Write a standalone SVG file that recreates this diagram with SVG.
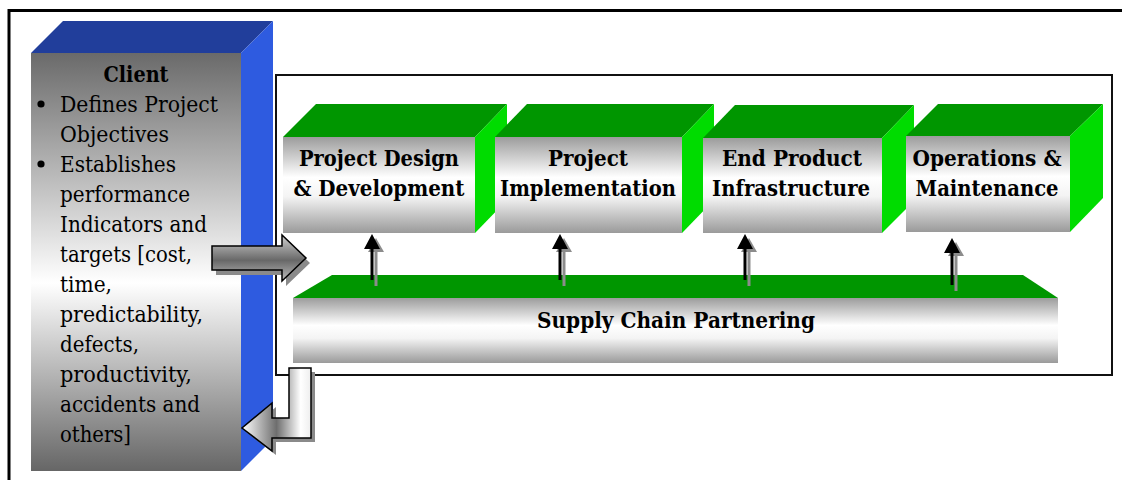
<svg xmlns="http://www.w3.org/2000/svg" width="1122" height="480" viewBox="0 0 1122 480">
  <style>
    text { fill: #000; }
    .lbl { font-size: 22px; font-weight: bold; text-anchor: middle; }
    .body { font-size: 22px; }
    .topg { fill: #009600; }
    .sideg { fill: #00DC00; }
    .frontg { fill: url(#gBox); }
    .shaft { stroke: #000; stroke-width: 3; }
    .shaftS { stroke: #8c8c8c; stroke-width: 3; }
  </style>
  <defs>
    <linearGradient id="gBox" x1="0" y1="0" x2="0" y2="1">
      <stop offset="0" stop-color="#9c9c9c"/>
      <stop offset="0.42" stop-color="#ffffff"/>
      <stop offset="0.62" stop-color="#f4f4f4"/>
      <stop offset="1" stop-color="#9a9a9a"/>
    </linearGradient>
    <linearGradient id="gClient" x1="0" y1="0" x2="0" y2="1">
      <stop offset="0" stop-color="#6a6a6a"/>
      <stop offset="0.55" stop-color="#ffffff"/>
      <stop offset="1" stop-color="#666666"/>
    </linearGradient>
    <linearGradient id="gRight" x1="0" y1="0" x2="0" y2="1">
      <stop offset="0" stop-color="#d0d0d0"/>
      <stop offset="0.55" stop-color="#686868"/>
      <stop offset="1" stop-color="#bdbdbd"/>
    </linearGradient>
    <linearGradient id="gBack" gradientUnits="userSpaceOnUse" x1="242" y1="0" x2="311" y2="0">
      <stop offset="0" stop-color="#ffffff"/>
      <stop offset="0.5" stop-color="#6e6e6e"/>
      <stop offset="0.85" stop-color="#ffffff"/>
      <stop offset="1" stop-color="#eeeeee"/>
    </linearGradient>
  </defs>

  <rect width="1122" height="480" fill="#ffffff"/>

  <!-- outer frame -->
  <rect x="9" y="10.5" width="1130" height="490" fill="none" stroke="#000" stroke-width="3"/>

  <g font-family="DejaVu Serif">
  <!-- client block -->
  <g id="client">
    <polygon points="31,53 63,21 273,21 241,53" fill="#213E9B"/>
    <polygon points="241,53 273,21 273,439 241,471" fill="#2E5BE0"/>
    <rect x="31" y="53" width="210" height="418" fill="url(#gClient)"/>
    <text class="lbl" x="136" y="82" textLength="65" lengthAdjust="spacingAndGlyphs">Client</text>
    <circle cx="41" cy="104" r="3.6" fill="#000"/>
    <circle cx="41" cy="164" r="3.6" fill="#000"/>
    <g class="body">
      <text x="60" y="112" textLength="158" lengthAdjust="spacingAndGlyphs">Defines Project</text>
      <text x="60" y="142" textLength="109" lengthAdjust="spacingAndGlyphs">Objectives</text>
      <text x="60" y="172" textLength="116" lengthAdjust="spacingAndGlyphs">Establishes</text>
      <text x="60" y="202" textLength="130" lengthAdjust="spacingAndGlyphs">performance</text>
      <text x="60" y="232" textLength="147" lengthAdjust="spacingAndGlyphs">Indicators and</text>
      <text x="60" y="262" textLength="132" lengthAdjust="spacingAndGlyphs">targets [cost,</text>
      <text x="60" y="292" textLength="52" lengthAdjust="spacingAndGlyphs">time,</text>
      <text x="60" y="322" textLength="143" lengthAdjust="spacingAndGlyphs">predictability,</text>
      <text x="60" y="352" textLength="79" lengthAdjust="spacingAndGlyphs">defects,</text>
      <text x="60" y="382" textLength="132" lengthAdjust="spacingAndGlyphs">productivity,</text>
      <text x="60" y="412" textLength="140" lengthAdjust="spacingAndGlyphs">accidents and</text>
      <text x="60" y="442" textLength="71" lengthAdjust="spacingAndGlyphs">others]</text>
    </g>
  </g>

  <!-- project lifecycle frame -->
  <rect id="frame" x="276" y="75" width="836" height="300" fill="none" stroke="#111" stroke-width="2"/>

  <g id="design">
    <polygon class="topg" points="283,137 316,104 507,104 475,137"/>
    <polygon class="sideg" points="475,137 507,104 507,200 475,233"/>
    <rect class="frontg" x="283" y="137" width="192" height="96"/>
    <text class="lbl" x="379" y="166" textLength="160" lengthAdjust="spacingAndGlyphs">Project Design</text>
    <text class="lbl" x="379" y="196" textLength="171" lengthAdjust="spacingAndGlyphs">&amp; Development</text>
  </g>

  <g id="implementation">
    <polygon class="topg" points="495,137 527,104 714,104 682,137"/>
    <polygon class="sideg" points="682,137 714,104 714,200 682,233"/>
    <rect class="frontg" x="495" y="137" width="187" height="96"/>
    <text class="lbl" x="588" y="166" textLength="80" lengthAdjust="spacingAndGlyphs">Project</text>
    <text class="lbl" x="588" y="196" textLength="176" lengthAdjust="spacingAndGlyphs">Implementation</text>
  </g>

  <g id="infrastructure">
    <polygon class="topg" points="703,138 735,105 914,105 882,138"/>
    <polygon class="sideg" points="882,138 914,105 914,201 882,233"/>
    <rect class="frontg" x="703" y="138" width="179" height="95"/>
    <text class="lbl" x="792" y="166" textLength="140" lengthAdjust="spacingAndGlyphs">End Product</text>
    <text class="lbl" x="791" y="196" textLength="158" lengthAdjust="spacingAndGlyphs">Infrastructure</text>
  </g>

  <g id="operations">
    <polygon class="topg" points="906,136 938,104 1103,104 1070,136"/>
    <polygon class="sideg" points="1070,136 1103,104 1103,198 1070,232"/>
    <rect class="frontg" x="906" y="136" width="164" height="96"/>
    <text class="lbl" x="987" y="166" textLength="149" lengthAdjust="spacingAndGlyphs">Operations &amp;</text>
    <text class="lbl" x="987" y="196" textLength="143" lengthAdjust="spacingAndGlyphs">Maintenance</text>
  </g>

  <g id="supply">
    <polygon class="topg" points="293,298 332,275 1023,275 1058,298"/>
    <rect class="frontg" x="293" y="298" width="765" height="65"/>
    <text class="lbl" x="676" y="328" textLength="278" lengthAdjust="spacingAndGlyphs">Supply Chain Partnering</text>
  </g>
  </g>

  <g id="connectors">
    <!-- feed from client into the lifecycle -->
    <polygon points="216,251 286,251 286,240 310,263 286,286 286,275 216,275" fill="#8a8a8a"/>
    <polygon points="212,246 282,246 282,235 306,258 282,281 282,270 212,270" fill="url(#gRight)" stroke="#000" stroke-width="1.5"/>

    <!-- feedback to client -->
    <polygon points="293,372 315,372 315,442 276,442 276,455 246,432 276,407 276,422 293,422" fill="#8a8a8a"/>
    <polygon points="289,368 311,368 311,438 272,438 272,451 242,428 272,403 272,418 289,418" fill="url(#gBack)" stroke="#000" stroke-width="1.5"/>

    <!-- supply chain support arrows (shadow then arrow) -->
    <g>
      <line class="shaftS" x1="376" y1="286" x2="376" y2="250"/>
      <polygon points="368,252 376,238 384,252" fill="#8c8c8c"/>
      <line class="shaft" x1="372" y1="280" x2="372" y2="246"/>
      <polygon points="364,249 372,234 380,249" fill="#000"/>
    </g>
    <g>
      <line class="shaftS" x1="564" y1="286" x2="564" y2="250"/>
      <polygon points="556,252 564,238 572,252" fill="#8c8c8c"/>
      <line class="shaft" x1="560" y1="280" x2="560" y2="246"/>
      <polygon points="552,249 560,234 568,249" fill="#000"/>
    </g>
    <g>
      <line class="shaftS" x1="749" y1="286" x2="749" y2="250"/>
      <polygon points="741,252 749,238 757,252" fill="#8c8c8c"/>
      <line class="shaft" x1="745" y1="280" x2="745" y2="246"/>
      <polygon points="737,249 745,234 753,249" fill="#000"/>
    </g>
    <g>
      <line class="shaftS" x1="956" y1="291" x2="956" y2="254"/>
      <polygon points="948,256 956,242 964,256" fill="#8c8c8c"/>
      <line class="shaft" x1="952" y1="285" x2="952" y2="250"/>
      <polygon points="944,253 952,238 960,253" fill="#000"/>
    </g>
  </g>
</svg>
